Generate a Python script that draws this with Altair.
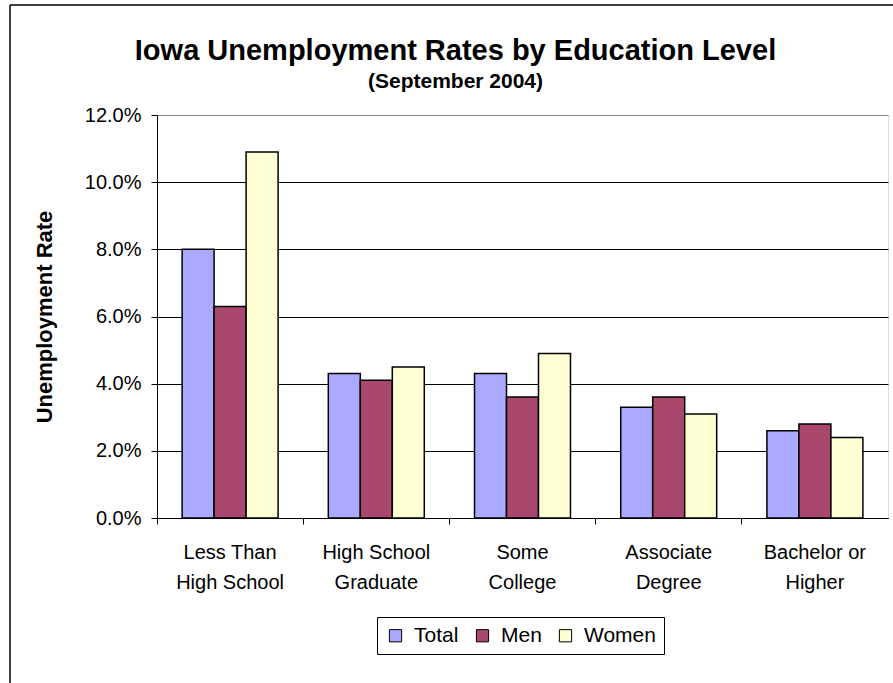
import altair as alt
import pandas as pd

categories = ["Less Than|High School", "High School|Graduate", "Some|College",
              "Associate|Degree", "Bachelor or|Higher"]
series = ["Total", "Men", "Women"]
total = [0.080, 0.043, 0.043, 0.033, 0.026]
men = [0.063, 0.041, 0.036, 0.036, 0.028]
women = [0.109, 0.045, 0.049, 0.031, 0.024]
colors = ["#A9AAFF", "#A9476F", "#FFFFD4"]
y_ticks = [0.0, 0.02, 0.04, 0.06, 0.08, 0.10, 0.12]

rows = []
for i, c in enumerate(categories):
    for s, vals in zip(series, [total, men, women]):
        rows.append({"Education": c, "Group": s, "Rate": vals[i]})
df = pd.DataFrame(rows)

FONT = "Liberation Sans"

bars = alt.Chart(df).mark_bar(stroke="black", strokeWidth=1.5).encode(
    x=alt.X("Education:N", sort=categories,
            scale=alt.Scale(paddingInner=0, paddingOuter=0),
            axis=alt.Axis(title=None, labelAngle=0, bandPosition=0,
                          labelExpr="split(datum.label, '|')",
                          labelFontSize=20, labelLineHeight=30,
                          labelPadding=18, tickSize=6, domainColor="black",
                          tickColor="black", labelColor="black", labelFont=FONT,
                          grid=False)),
    xOffset=alt.XOffset("Group:N", sort=series,
                        scale=alt.Scale(paddingInner=0, paddingOuter=0.785)),
    y=alt.Y("Rate:Q", scale=alt.Scale(domain=[0, 0.12], nice=False),
            axis=alt.Axis(title="Unemployment Rate", values=y_ticks, format=".1%",
                          labelFontSize=20, labelFont=FONT, labelColor="black",
                          labelPadding=10, tickSize=6, tickColor="black",
                          domainColor="black",
                          titleFontSize=22, titleFont=FONT, titleFontWeight="bold",
                          titleColor="black", titlePadding=28,
                          grid=True,
                          gridColor={"condition": {"test": "datum.value >= 0.119", "value": "#888888"},
                                     "value": "black"},
                          gridOpacity=1)),
    fill=alt.Fill("Group:N", sort=series,
                  scale=alt.Scale(domain=series, range=colors),
                  legend=alt.Legend(title=None, orient="none", legendX=220, legendY=502,
                                    direction="horizontal", strokeColor="black",
                                    fillColor="white", padding=8,
                                    symbolType="square", symbolSize=150,
                                    symbolStrokeColor="black", symbolStrokeWidth=1,
                                    labelFontSize=21, labelFont=FONT, labelColor="black",
                                    columnPadding=13, labelOffset=8)),
)

border = alt.Chart(pd.DataFrame({"a": [0]})).mark_rule(color="black", strokeWidth=1.5).encode(
    x=alt.value(-147), x2=alt.value(740), y=alt.value(-110), y2=alt.value(-110)
)
border_left = alt.Chart(pd.DataFrame({"a": [0]})).mark_rule(color="black", strokeWidth=1.5).encode(
    x=alt.value(-147), x2=alt.value(-147), y=alt.value(-110), y2=alt.value(570)
)

chart = alt.layer(bars, border, border_left).properties(
    width=731, height=403,
    title=alt.TitleParams(
        text="Iowa Unemployment Rates by Education Level",
        subtitle="(September 2004)",
        font=FONT, fontSize=29, fontWeight="bold", color="black",
        subtitleFont=FONT, subtitleFontSize=21, subtitleFontWeight="bold",
        subtitleColor="black", subtitlePadding=5,
        anchor="middle", frame="group", dx=-67, dy=112, offset=24),
    autosize=alt.AutoSizeParams(type="none"),
    padding={"left": 157, "top": 115, "right": 5, "bottom": 165},
).configure_view(stroke="#888888", strokeWidth=1.5).configure(background="white")

chart.save("out.html", embed_options={"renderer": "svg", "actions": False})
